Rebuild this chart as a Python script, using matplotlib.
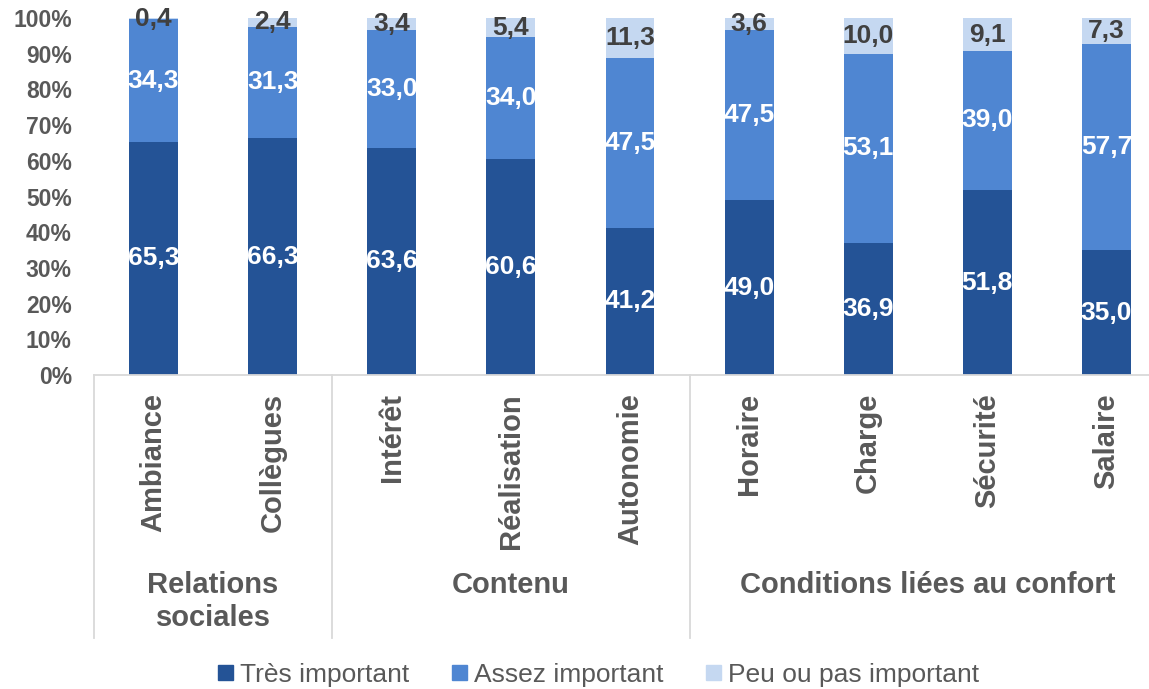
import matplotlib.pyplot as plt
from matplotlib.lines import Line2D
from matplotlib.patches import Patch

# share of respondents per criterion (%)
categories = ['Ambiance', 'Collègues', 'Intérêt', 'Réalisation', 'Autonomie',
              'Horaire', 'Charge', 'Sécurité', 'Salaire']
tres = [65.3, 66.3, 63.6, 60.6, 41.2, 49.0, 36.9, 51.8, 35.0]
assez = [34.3, 31.3, 33.0, 34.0, 47.5, 47.5, 53.1, 39.0, 57.7]
peu = [0.4, 2.4, 3.4, 5.4, 11.3, 3.6, 10.0, 9.1, 7.3]
groups = ['Relations\nsociales', 'Contenu', 'Conditions liées au confort']
group_sizes = [2, 3, 4]
series_names = ['Très important', 'Assez important', 'Peu ou pas important']
yticks = [0, 10, 20, 30, 40, 50, 60, 70, 80, 90, 100]

colors = ['#245396', '#4F86D2', '#C5D8F1']
label_colors = ['white', 'white', '#404040']
gray = '#595959'
linecol = '#D9D9D9'

plt.rcParams['font.family'] = ['Liberation Sans', 'DejaVu Sans']

W, H = 1149, 689
fig = plt.figure(figsize=(W / 100, H / 100), dpi=100)
x0, x1, ytop, ybot = 94, 1166, 18, 375
ax = fig.add_axes([x0 / W, (H - ybot) / H, (x1 - x0) / W, (ybot - ytop) / H])

xs = list(range(len(categories)))
bottom = [0.0] * len(categories)
for vals, c, lc in zip([tres, assez, peu], colors, label_colors):
    fr = [v / 100 for v in vals]
    ax.bar(xs, fr, width=0.41, bottom=bottom, color=c, linewidth=0)
    for i, (b, f, v) in enumerate(zip(bottom, fr, vals)):
        ax.text(i, b + f / 2, f'{v:.1f}'.replace('.', ','), ha='center', va='center',
                color=lc, fontsize=19, fontweight='bold')
    bottom = [b + f for b, f in zip(bottom, fr)]

ax.set_xlim(-0.5, len(categories) - 0.5)
ax.set_ylim(0, 1)
ax.set_yticks([t / 100 for t in yticks])
ax.set_yticklabels([f'{t}%' for t in yticks], fontsize=16.5, fontweight='bold', color=gray)
ax.tick_params(axis='y', length=0, pad=16)
ax.set_xticks([])
for s in ['left', 'right', 'top']:
    ax.spines[s].set_visible(False)
ax.spines['bottom'].set_color(linecol)
ax.spines['bottom'].set_linewidth(1.3)

# category names, rotated under each bar
step = (x1 - x0) / len(categories)
for i, name in enumerate(categories):
    xc = x0 + (i + 0.5) * step
    fig.text(xc / W, (H - 393) / H, name, rotation=90, ha='center', va='top',
             fontsize=21, fontweight='bold', color=gray)

# group labels and separators
start = 0
for g, n in zip(groups, group_sizes):
    left = x0 + start * step
    right = x0 + (start + n) * step
    fig.add_artist(Line2D([left / W, left / W], [(H - ybot) / H, (H - 638) / H],
                          color=linecol, lw=1.3, transform=fig.transFigure))
    fig.text((left + right) / 2 / W, (H - 571) / H, g, ha='center', va='top',
             fontsize=21, fontweight='bold', color=gray, linespacing=1.25)
    start += n

handles = [Patch(color=c, label=n) for c, n in zip(colors, series_names)]
fig.legend(handles=handles, loc='center', bbox_to_anchor=(598.5 / W, (H - 675) / H),
           ncol=3, frameon=False, fontsize=19, handlelength=0.57, handleheight=0.5,
           handletextpad=0.27, columnspacing=1.6, labelcolor=gray,
           borderpad=0, borderaxespad=0)

fig.savefig('out.png', dpi=100)
